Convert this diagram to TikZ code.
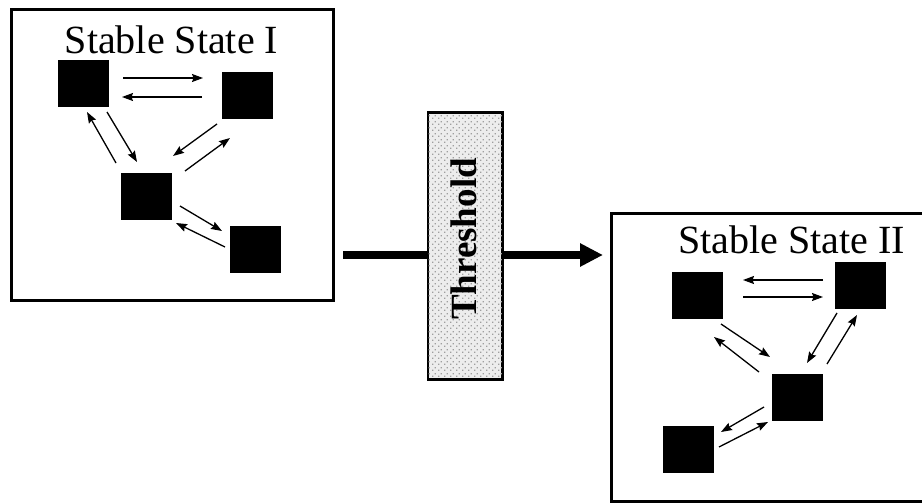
\documentclass[tikz,border=0pt]{standalone}
\usepackage{fontspec}
\setmainfont{Liberation Serif}
\usetikzlibrary{arrows.meta,patterns.meta}
\tikzdeclarepattern{
  name=speck, type=uncolored,
  bounding box={(0pt,0pt) and (6pt,6pt)},
  tile size={(6pt,6pt)},
  code={
    \fill (0pt,0pt) rectangle (1.6pt,1.6pt);
    \fill (3pt,3pt) rectangle (4.6pt,4.6pt);
  }}
\begin{document}
\begin{tikzpicture}[x=1pt,y=-1pt,
  frame/.style={draw=black,line width=3pt,fill=white},
  sq/.style={fill=black,draw=none,minimum width=51pt,minimum height=47pt,inner sep=0pt},
  arr/.style={line width=1.3pt,-{Stealth[length=11pt,width=8pt,inset=1.5pt]}},
  bigarr/.style={line width=8pt},
  title/.style={font=\fontsize{40}{40}\selectfont,anchor=base,inner sep=0pt}]
\useasboundingbox (0,0) rectangle (922,503);
\begin{scope}
\clip (0,0) rectangle (922,503);
% frames
\draw[frame] (11,10) rectangle (333,300);
\draw[frame] (611,213) rectangle (940,501);
\end{scope}
\node[title] (t1) at (171.5,54) {Stable State I};
\node[title] (t2) at (791.5,253) {Stable State II};
% squares box 1
\node[sq] (A) at (83,83.5) {};
\node[sq] (B) at (247.5,95.5) {};
\node[sq] (C) at (146.5,196) {};
\node[sq] (D) at (255,249.5) {};
% squares box 2
\node[sq] (E) at (697.5,295.5) {};
\node[sq] (F) at (860.5,285.5) {};
\node[sq] (G) at (797.5,397.5) {};
\node[sq] (H) at (688.5,449.5) {};
% arrows box 1
\draw[arr] (123,78) -- (203,78);
\draw[arr] (202,97) -- (122,97);
\draw[arr] (107,112) -- (137,162);
\draw[arr] (116,163) -- (87,112);
\draw[arr] (217,124) -- (173,156);
\draw[arr] (185,171) -- (230,138);
\draw[arr] (180,206) -- (222,231);
\draw[arr] (225,247) -- (176,223);
% arrows box 2
\draw[arr] (823,280) -- (743,280);
\draw[arr] (743,297) -- (823,297);
\draw[arr] (721,324) -- (770,357);
\draw[arr] (759,372) -- (714,337);
\draw[arr] (837,313) -- (807,363);
\draw[arr] (827,364) -- (857,315);
\draw[arr] (764,407) -- (721,432);
\draw[arr] (719,447) -- (768,422);
% threshold
\coordinate (s) at (343,255);
\coordinate (e) at (603,255);
\node[draw=black,line width=1.5pt,fill=gray!14,minimum width=74pt,minimum height=266pt,inner sep=0pt] (thr) at (465,246) {};
\fill[pattern=speck,pattern color=gray!75] (thr.south west) rectangle (thr.north east);
\draw[line width=1.5pt] (thr.south west) rectangle (thr.north east);
\node[rotate=90,font=\fontsize{37}{37}\selectfont\bfseries,inner sep=0pt] (tt) at (464,239) {Threshold};
\draw[bigarr] (s) -- (s -| thr.west);
\draw[bigarr,-{Triangle[length=23pt,width=22pt]}] (s -| thr.east) -- (e);
\end{tikzpicture}
\end{document}
